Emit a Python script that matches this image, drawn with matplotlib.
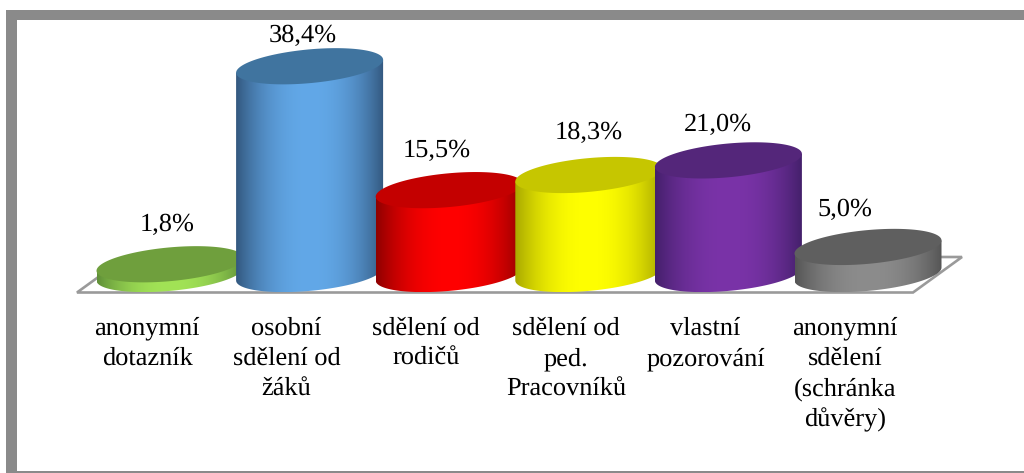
import numpy as np
import matplotlib
matplotlib.use('Agg')
import matplotlib.pyplot as plt
from matplotlib.colors import to_rgb
from matplotlib.patches import Polygon, Rectangle
from matplotlib.transforms import Affine2D

categories = ['anonymní\ndotazník', 'osobní\nsdělení od\nžáků', 'sdělení od\nrodičů',
              'sdělení od\nped.\nPracovníků', 'vlastní\npozorování',
              'anonymní\nsdělení\n(schránka\ndůvěry)']
values = [1.8, 38.4, 15.5, 18.3, 21.0, 5.0]
value_labels = ['1,8%', '38,4%', '15,5%', '18,3%', '21,0%', '5,0%']

# dark edge, bright middle, top face
side_edge = ['#5f8f38', '#33587f', '#8e0000', '#a8a800', '#44206b', '#555555']
side_mid = ['#a2e356', '#62a8e8', '#ff0000', '#ffff00', '#7a33a8', '#8c8c8c']
top_face = ['#6f9f3d', '#40749f', '#c40000', '#c6c600', '#54267a', '#5f5f5f']

# hand placed labels in the original, offsets in px
value_dx = [-3, -7, -12, 0, -10, -23]
value_dy = [40, 31, 39, 42, 36, 37]

W, H = 1024, 473
X0, X_STEP = 170, 139.6
Y0, Y_STEP = 274, 5.41
HALF_W = 73.5
TILT = 6.5
MINOR = 16.9
LINE_H = 30.5
PT = 0.72

plt.rcParams['font.family'] = ['Liberation Serif', 'DejaVu Serif']
plt.rcParams['text.hinting'] = 'no_hinting'

fig = plt.figure(figsize=(W / 100, H / 100), dpi=100)
ax = fig.add_axes([0, 0, 1, 1])
xlim = (-X0 / X_STEP, (W - X0) / X_STEP)
ylim = ((Y0 - H) / Y_STEP, Y0 / Y_STEP)
ax.axis('off')

# pixel coords from the top left, only for frame and floor
px = Affine2D().scale(1, -1).translate(0, H)

for x, y, w, h in [(6, 10, 1018, 10), (6, 10, 11, 463), (6, 471, 1018, 2)]:
    ax.add_patch(Rectangle((x, y), w, h, transform=px, fc='#8a8a8a', ec='none', zorder=1))

ax.add_patch(Polygon([(77, 292.5), (913, 292.5), (962, 257), (126, 257)], closed=True,
                     transform=px, fc='white', ec='#9a9a9a', lw=1.9, zorder=1))


def ellipse(cx, cy, t):
    a = HALF_W / X_STEP
    b = MINOR / Y_STEP
    s = TILT / Y_STEP
    return cx + a * np.cos(t), cy + b * np.sin(t) + s * np.cos(t)


for i, v in enumerate(values):
    z = 2 + i
    a = HALF_W / X_STEP

    # body, with horizontal shading clipped to its outline
    bx, by = ellipse(i, 0, np.linspace(np.pi, 2 * np.pi, 80))
    tx, ty = ellipse(i, v, np.array([0, np.pi]))
    outline = np.column_stack([np.r_[bx, tx], np.r_[by, ty]])
    body = Polygon(outline, closed=True, fc='none', ec='none', transform=ax.transData)
    ax.add_patch(body)

    u = np.abs(np.linspace(-1, 1, 256))[None, :, None]
    edge = np.array(to_rgb(side_edge[i]))
    mid = np.array(to_rgb(side_mid[i]))
    shade = mid + (edge - mid) * u ** 2.2
    im = ax.imshow(shade, extent=(i - a, i + a, by.min(), ty.max()), aspect='auto',
                   interpolation='bilinear', zorder=z)
    im.set_clip_path(body)

    # top face
    ex, ey = ellipse(i, v, np.linspace(0, 2 * np.pi, 240))
    ax.fill(ex, ey, color=top_face[i], lw=0, zorder=z + 0.5)

    ax.annotate(value_labels[i], xy=(i, v),
                xytext=(value_dx[i] * PT, value_dy[i] * PT), textcoords='offset points',
                ha='center', va='center', fontsize=19, color='black', zorder=20)
    # one text per line so the line pitch stays even with the brackets
    for j, line in enumerate(categories[i].split('\n')):
        ax.annotate(line, xy=(i, 0),
                    xytext=(-23 * PT, (-60.5 - LINE_H * j) * PT), textcoords='offset points',
                    ha='center', va='baseline', fontsize=19, color='black', zorder=20)

ax.set_xlim(xlim)
ax.set_ylim(ylim)

fig.savefig('out.png', dpi=100)
